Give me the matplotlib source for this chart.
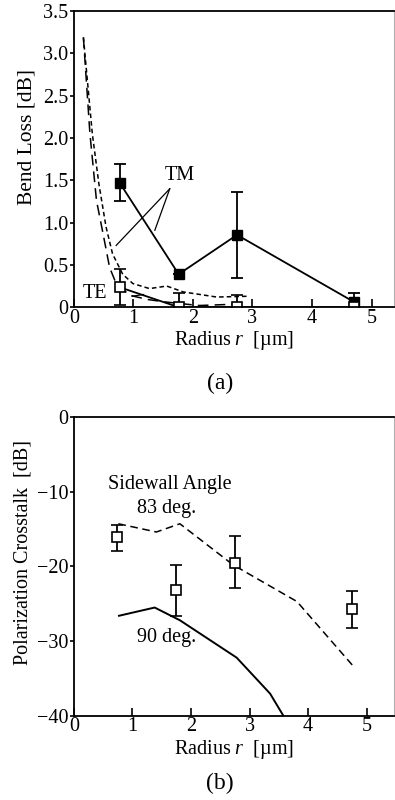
import matplotlib
matplotlib.use("Agg")
from matplotlib import pyplot as plt

plt.rcParams['font.family'] = ['Liberation Serif', 'DejaVu Serif']
plt.rcParams['mathtext.fontset'] = 'custom'
plt.rcParams['mathtext.it'] = 'Liberation Serif:italic'
plt.rcParams['mathtext.rm'] = 'Liberation Serif'

# (a) bend loss
radius_meas = [0.77, 1.76, 2.74, 4.71]
tm_loss = [1.47, 0.39, 0.855, 0.06]
tm_err_lo = [1.25, 0.39, 0.35, 0.0]
tm_err_hi = [1.69, 0.39, 1.36, 0.165]
te_loss = [0.236, 0.0, 0.0, 0.0]
te_err_lo = [0.03, 0.0, 0.0, 0.0]
te_err_hi = [0.45, 0.165, 0.14, 0.0]

te_sim_r = [0.16, 0.27, 0.38, 0.49, 0.60, 0.71, 0.94, 1.25, 1.56, 2.1, 2.5, 2.9]
te_sim_loss = [3.19, 2.05, 1.26, 0.87, 0.47, 0.28, 0.14, 0.09, 0.06, 0.02, 0.03, 0.04]
tm_sim_r = [0.16, 0.31, 0.42, 0.54, 0.65, 0.82, 0.99, 1.27, 1.56, 1.84, 2.4, 2.95]
tm_sim_loss = [3.19, 2.05, 1.46, 0.95, 0.63, 0.39, 0.28, 0.22, 0.25, 0.18, 0.12, 0.13]

# (b) polarization crosstalk
radius_xt = [0.74, 1.75, 2.75, 4.75]
xt_meas = [-16.1, -23.2, -19.5, -25.7]
xt_err_lo = [-17.9, -26.6, -22.9, -28.2]
xt_err_hi = [-14.5, -19.8, -15.9, -23.3]
sim83_r = [0.76, 1.41, 1.81, 2.72, 3.81, 4.80]
sim83_xt = [-14.3, -15.4, -14.3, -19.8, -24.7, -33.6]
sim90_r = [0.77, 1.38, 1.81, 2.78, 3.35, 3.58]
sim90_xt = [-26.6, -25.5, -27.2, -32.2, -37.0, -40.0]

fs = 14.5


def style_axes(ax):
    for side in ['left', 'bottom', 'top']:
        ax.spines[side].set_linewidth(1.3)
    ax.spines['right'].set_color('#b0b0b0')
    ax.spines['right'].set_linewidth(0.8)
    ax.tick_params(axis='x', direction='in', length=6, width=1.2, labelsize=fs, pad=1)
    ax.tick_params(axis='y', direction='out', length=3, width=1.2, labelsize=fs, pad=1)


def errs(vals, lo, hi):
    return [[v - l for v, l in zip(vals, lo)], [h - v for v, h in zip(vals, hi)]]


fig = plt.figure(figsize=(3.95, 8.0), dpi=100)

ax1 = fig.add_axes([0.187, 0.616, 0.811, 0.370])
ax1.plot(te_sim_r, te_sim_loss, color='black', lw=1.1, dashes=(7, 4))
ax1.plot(tm_sim_r, tm_sim_loss, color='black', lw=1.1, dashes=(3, 2))
ax1.errorbar(radius_meas, tm_loss, yerr=errs(tm_loss, tm_err_lo, tm_err_hi),
             color='black', lw=1.3, elinewidth=1.3, capsize=4, capthick=1.3,
             marker='s', ms=7, mfc='black', mec='black')
ax1.errorbar(radius_meas, te_loss, yerr=errs(te_loss, te_err_lo, te_err_hi),
             color='black', lw=1.3, elinewidth=1.3, capsize=4, capthick=1.3,
             marker='s', ms=6.5, mfc='white', mec='black', mew=1.2)
ax1.text(1.78, 1.56, 'TM', fontsize=fs, ha='center', va='center')
ax1.plot([1.61, 0.71], [1.40, 0.73], color='black', lw=0.9)
ax1.plot([1.61, 1.36], [1.40, 0.91], color='black', lw=0.9)
ax1.text(0.35, 0.16, 'TE', fontsize=fs, ha='center', va='center')
ax1.plot([0.98, 1.17], [0.13, 0.15], color='black', lw=0.9)
ax1.set_xlim(0, 5.38)
ax1.set_ylim(0, 3.5)
ax1.set_xticks([0, 1, 2, 3, 4, 5])
ax1.set_yticks([0, 0.5, 1.0, 1.5, 2.0, 2.5, 3.0, 3.5])
ax1.set_yticklabels(['0', '0.5', '1.0', '1.5', '2.0', '2.5', '3.0', '3.5'])
ax1.set_xlabel(r'Radius $r$  [µm]', fontsize=fs, labelpad=1)
ax1.set_ylabel('Bend Loss [dB]', fontsize=15.5)
ax1.yaxis.set_label_coords(-0.117, 0.575)
style_axes(ax1)
fig.text(0.557, 0.521, '(a)', fontsize=17, ha='center', va='center')

ax2 = fig.add_axes([0.187, 0.105, 0.811, 0.374])
ax2.plot(sim83_r, sim83_xt, color='black', lw=1.1, dashes=(5, 3))
ax2.plot(sim90_r, sim90_xt, color='black', lw=1.4)
ax2.errorbar(radius_xt, xt_meas, yerr=errs(xt_meas, xt_err_lo, xt_err_hi),
             color='black', ls='none', elinewidth=1.3, capsize=4, capthick=1.3,
             marker='s', ms=6.5, mfc='white', mec='black', mew=1.2)
ax2.text(1.64, -9.1, 'Sidewall Angle', fontsize=fs, ha='center', va='center')
ax2.text(1.58, -12.2, '83 deg.', fontsize=fs, ha='center', va='center')
ax2.text(1.58, -29.5, '90 deg.', fontsize=fs, ha='center', va='center')
ax2.set_xlim(0, 5.47)
ax2.set_ylim(-40, 0)
ax2.set_xticks([0, 1, 2, 3, 4, 5])
ax2.set_yticks([-40, -30, -20, -10, 0])
ax2.set_yticklabels(['\u221240', '\u221230', '\u221220', '\u221210', '0'])
ax2.set_xlabel(r'Radius $r$  [µm]', fontsize=fs, labelpad=1)
ax2.set_ylabel('Polarization Crosstalk  [dB]', fontsize=fs)
ax2.yaxis.set_label_coords(-0.13, 0.545)
style_axes(ax2)
fig.text(0.557, 0.021, '(b)', fontsize=17, ha='center', va='center')

fig.savefig('out.png', dpi=100)
